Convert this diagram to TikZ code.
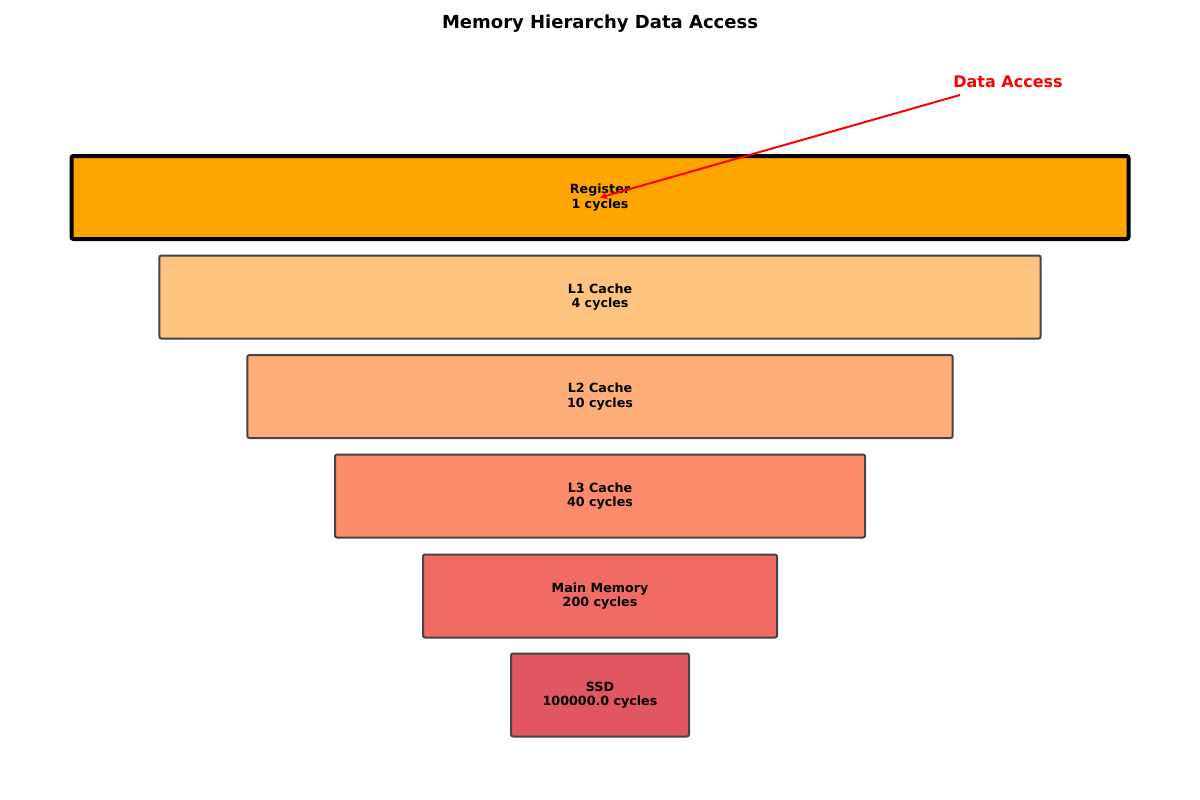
\documentclass[tikz,border=0pt]{standalone}
\usepackage{fontspec}
\setmainfont{DejaVu Sans}
\usetikzlibrary{positioning}
\definecolor{cReg}{HTML}{FFA500}
\definecolor{cLone}{HTML}{FEC37F}
\definecolor{cLtwo}{HTML}{FDAE78}
\definecolor{cLthree}{HTML}{FC8B6C}
\definecolor{cMain}{HTML}{F06B63}
\definecolor{cSSD}{HTML}{E05663}
\definecolor{edgegray}{HTML}{444444}
\begin{document}
\begin{tikzpicture}[x=0.75pt,y=-0.75pt]
 \tikzset{level/.style={draw=edgegray,line width=1.5pt,rounded corners=1.5pt,
        minimum height=62.25pt,inner sep=0pt,align=center,
        font=\fontsize{9.5}{11}\selectfont\bfseries}}
 \useasboundingbox (0,0) rectangle (1200,800);
 \node[font=\fontsize{13.5}{16}\selectfont\bfseries] (title) at (600,24) {Memory Hierarchy Data Access};
 \node[level,fill=cReg,draw=black,line width=3pt,minimum width=792.75pt] (reg) at (600,197.5) {Register\\1 cycles};
 \foreach \n/\c/\w/\y/\t in {lone/cLone/661/297/L1 Cache\\4 cycles,
                              ltwo/cLtwo/529/396.5/L2 Cache\\10 cycles,
                              lthree/cLthree/397.5/496/L3 Cache\\40 cycles,
                              main/cMain/265.5/596/Main Memory\\200 cycles,
                              ssd/cSSD/133.5/695/SSD\\100000.0 cycles}
 {
   \node[level,fill=\c,minimum width=\w pt] (\n) at (600,\y) {\t};
 }
 % annotation
 \node[text=red,font=\fontsize{12}{14}\selectfont\bfseries] (acc) at (1008,82) {Data Access};
 \coordinate (tail) at (960,95);
 \draw[red,line width=1.5pt,-stealth] (tail) -- (reg.center);
\end{tikzpicture}
\end{document}
